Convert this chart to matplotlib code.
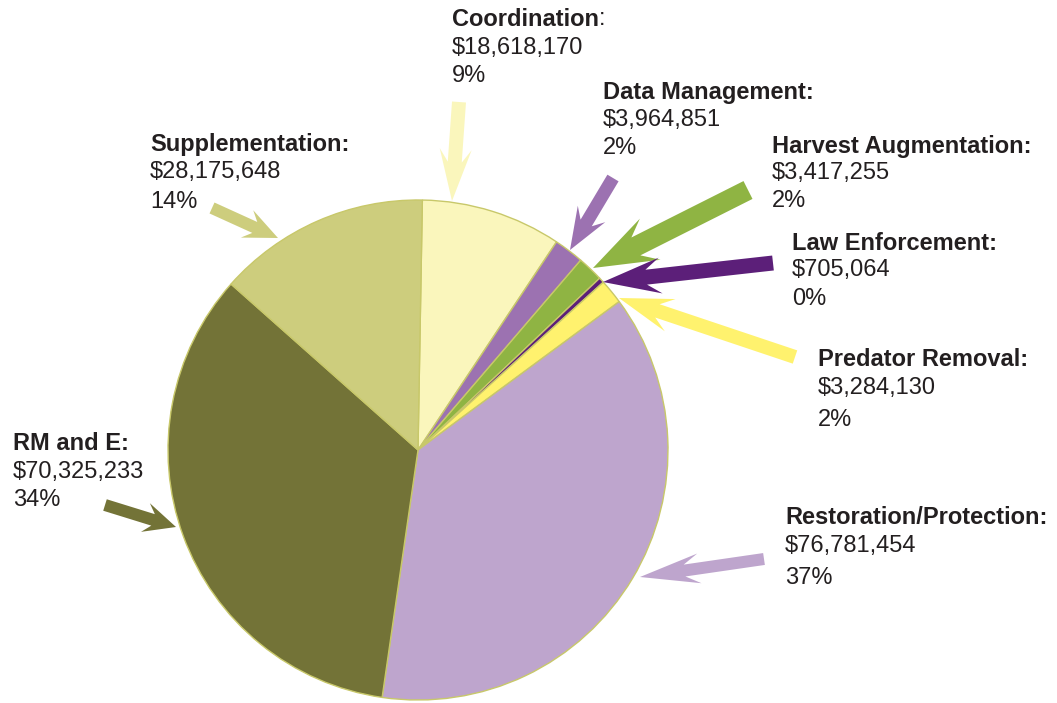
import numpy as np
from matplotlib import pyplot
from matplotlib.patches import Polygon

# budget by category, clockwise from top
categories = ['Coordination', 'Data Management', 'Harvest Augmentation', 'Law Enforcement',
              'Predator Removal', 'Restoration/Protection', 'RM and E', 'Supplementation']
amounts = [18618170, 3964851, 3417255, 705064, 3284130, 76781454, 70325233, 28175648]
percent_labels = ['9%', '2%', '2%', '0%', '2%', '37%', '34%', '14%']

colors = ['#FAF6BC', '#9C72B1', '#8FB443', '#5C1F79', '#FFF26E', '#BEA5CD', '#737337', '#CDCD7D']

# label layout in pixel coords: x, y of each line centre
label_pos = {
    'Coordination': (452, [19, 48, 76]),
    'Data Management': (603, [92, 120, 148]),
    'Harvest Augmentation': (772, [146, 173, 201]),
    'Law Enforcement': (792, [243, 270, 299]),
    'Predator Removal': (818, [360, 388, 420]),
    'Restoration/Protection': (785, [517, 546, 578]),
    'RM and E': (13, [443, 472, 500]),
    'Supplementation': (150, [144, 172, 202]),
}
# arrows: tail, tip, shaft width, head width, head length
arrow_geom = {
    'Coordination': ((459, 102), (452, 201), 14, 32, 52),
    'Data Management': ((613, 178), (570, 250), 13, 32, 42),
    'Harvest Augmentation': ((748, 190), (593, 268), 20, 46, 64),
    'Law Enforcement': ((773, 263), (603, 282), 15, 36, 58),
    'Predator Removal': ((795, 357), (619, 298), 14, 34, 54),
    'Restoration/Protection': ((764, 559), (640, 577), 12, 30, 60),
    'RM and E': ((105, 505), (176, 527), 12, 30, 32),
    'Supplementation': ((212, 208), (278, 238), 12, 30, 34),
}

pyplot.rcParams['font.family'] = ['Liberation Sans', 'DejaVu Sans']
text_color = '#231F20'


def barbed_arrow(tail, tip, w, hw, hl, color):
    tail = np.array(tail, float)
    tip = np.array(tip, float)
    u = (tip - tail) / np.linalg.norm(tip - tail)
    n = np.array([-u[1], u[0]])
    neck = tip - u * hl * 0.75
    barb = tip - u * hl
    pts = [tail + n * w / 2, neck + n * w / 2, barb + n * hw / 2, tip,
           barb - n * hw / 2, neck - n * w / 2, tail - n * w / 2]
    return Polygon(pts, closed=True, facecolor=color, edgecolor='none')


fig = pyplot.figure(figsize=(10.57, 7.03), dpi=100)
ax = fig.add_axes([0, 0, 1, 1])

ax.pie(amounts, colors=colors, center=(418, 450), radius=250, startangle=-89,
       counterclock=True, wedgeprops=dict(edgecolor='#C8C86A', linewidth=1.0))
ax.set_xlim(0, 1057)
ax.set_ylim(703, 0)
ax.set_aspect('equal')
ax.axis('off')

for i, cat in enumerate(categories):
    tail, tip, w, hw, hl = arrow_geom[cat]
    ax.add_patch(barbed_arrow(tail, tip, w, hw, hl, colors[i]))
    x, ys = label_pos[cat]
    title = cat if cat == 'Coordination' else cat + ':'
    ax.text(x, ys[0], title, fontsize=17, fontweight='bold', color=text_color,
            ha='left', va='center')
    if cat == 'Coordination':
        # the colon after Coordination is set in regular weight
        ax.text(x + 147, ys[0], ':', fontsize=17, color=text_color, ha='left', va='center')
    ax.text(x, ys[1], f'${amounts[i]:,}', fontsize=17, color=text_color, ha='left', va='center')
    ax.text(x, ys[2], percent_labels[i], fontsize=17, color=text_color, ha='left', va='center')

fig.savefig('out.png', dpi=100)
